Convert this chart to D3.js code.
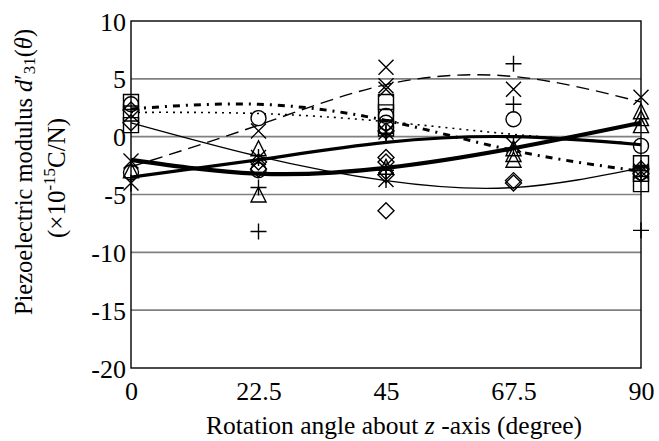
<!DOCTYPE html>
<html>
  <head>
    <meta charset='utf-8'>
    <script src="https://d3js.org/d3.v7.min.js"></script>
    <title>Piezoelectric modulus d'31</title>
    <style>
      body { margin: 0; background: #fff; }
      text { font-family: "Liberation Serif", "Times New Roman", serif; fill: #000; }
    </style>
  </head>
  <body>
    <div id='chartDIV'></div>
    <script>

  // rotation angles and tick labels
  var angles = [0, 22.5, 45, 67.5, 90];
  var xTicks = ["0", "22.5", "45", "67.5", "90"];
  var yTicks = [10, 5, 0, -5, -10, -15, -20];

  // measured points, one list per angle
  var squareVals   = [[3.0, 2.0, 1.0], [], [3.0, 2.1, 0.7], [], [-2.3, -3.2, -4.1]];
  var circleVals   = [[2.8, -3.1], [1.6, -2.9], [1.8, 1.2, 0.8], [1.5], [-0.8, -3.1]];
  var diamondVals  = [[2.3, 1.2], [-2.2, -2.8], [0.5, -1.8, -2.2, -3.3, -6.4], [-3.8, -4.0], [-2.8, -3.2]];
  var triangleVals = [[-2.9], [-1.0, -5.0], [-2.6], [-1.0, -1.5, -2.0], [2.2, 1.6, 1.0]];
  var crossVals    = [[-2.1], [0.5], [6.0, 4.4, 4.1], [4.1], [3.4]];
  var plusVals     = [[], [-4.4, -8.2], [0.3, -2.9], [6.3, 2.8], [-2.7, -8.1]];
  var starVals     = [[-4.0], [-1.8], [0.4, -3.7], [-0.7], [-3.0]];

  // calculated curves, value at each angle
  var thinLine    = [1.2, -1.7, -3.8, -4.4, -2.7];
  var thickLineA  = [-2.0, -3.2, -2.7, -1.0, 1.2];
  var thickLineB  = [-3.5, -2.0, -0.5, 0.0, -0.7];
  var dottedLine  = [2.1, 2.0, 1.3, 0.2, -0.6];
  var dashDotLine = [2.4, 2.8, 1.4, -1.2, -3.0];
  var dashedLine  = [-2.6, 1.0, 4.5, 5.2, 3.0];

  var W = 659, H = 441;
  var plotL = 131, plotR = 641, plotT = 21, plotB = 368;

  var xScale = d3.scaleLinear().domain([0, 90]).range([plotL, plotR]);
  var yScale = d3.scaleLinear().domain([-20, 10]).range([plotB, plotT]);

  var svg = d3.select("#chartDIV")
    .append("svg")
    .attr("width", W)
    .attr("height", H);

  // grid lines
  svg.append("g")
    .selectAll("line")
    .data(yTicks.filter(function(d) { return d > -20 && d < 10; }))
    .enter()
    .append("line")
    .attr("x1", plotL).attr("x2", plotR)
    .attr("y1", function(d) { return yScale(d); })
    .attr("y2", function(d) { return yScale(d); })
    .attr("stroke", "#808080")
    .attr("stroke-width", 1.7);

  // axes
  var yAxis = svg.append("g")
    .attr("transform", "translate(" + plotL + ",0)")
    .call(d3.axisLeft(yScale).tickValues(yTicks).tickSize(0).tickPadding(5)
      .tickFormat(function(d) { return String(d); }));
  var xAxis = svg.append("g")
    .attr("transform", "translate(0," + plotB + ")")
    .call(d3.axisBottom(xScale).tickValues(angles).tickSize(0).tickPadding(14)
      .tickFormat(function(d, i) { return xTicks[i]; }));

  [xAxis, yAxis].forEach(function(a) {
    a.select(".domain").remove();
    a.selectAll("text")
      .style("font-family", "'Liberation Serif', serif")
      .style("font-size", "26px");
  });
  yAxis.selectAll("text").attr("dy", "0.35em");

  // plot frame
  svg.append("rect")
    .attr("x", plotL).attr("y", plotT)
    .attr("width", plotR - plotL).attr("height", plotB - plotT)
    .attr("fill", "none")
    .attr("stroke", "#000")
    .attr("stroke-width", 1.4);

  // marker shapes
  var h = 7.5;
  var shapes = {
    square:   "M" + -h + "," + -h + "h" + 2*h + "v" + 2*h + "h" + -2*h + "Z",
    circle:   "M" + h + ",0A" + h + "," + h + " 0 1,1 " + -h + ",0A" + h + "," + h + " 0 1,1 " + h + ",0Z",
    diamond:  "M0," + (-h-0.5) + "L" + (h+0.5) + ",0L0," + (h+0.5) + "L" + (-h-0.5) + ",0Z",
    triangle: "M0," + (-h) + "L" + h + "," + h + "L" + -h + "," + h + "Z",
    cross:    "M" + -h + "," + -h + "L" + h + "," + h + "M" + h + "," + -h + "L" + -h + "," + h,
    plus:     "M" + (-h-0.5) + ",0L" + (h+0.5) + ",0M0," + (-h-0.5) + "L0," + (h+0.5),
    star:     "M" + -h + "," + -h + "L" + h + "," + h + "M" + h + "," + -h + "L" + -h + "," + h +
              "M0," + (-h-1) + "L0," + (h+1)
  };

  var markerSets = [
    { shape: "square", vals: squareVals },
    { shape: "circle", vals: circleVals },
    { shape: "diamond", vals: diamondVals },
    { shape: "triangle", vals: triangleVals },
    { shape: "cross", vals: crossVals },
    { shape: "plus", vals: plusVals },
    { shape: "star", vals: starVals }
  ];

  var points = [];
  markerSets.forEach(function(set) {
    set.vals.forEach(function(list, i) {
      list.forEach(function(v) {
        points.push({ shape: set.shape, x: angles[i], y: v });
      });
    });
  });

  svg.append("g")
    .selectAll("path")
    .data(points)
    .enter()
    .append("path")
    .attr("transform", function(d) { return "translate(" + xScale(d.x) + "," + yScale(d.y) + ")"; })
    .attr("d", function(d) { return shapes[d.shape]; })
    .attr("fill", "none")
    .attr("stroke", "#000")
    .attr("stroke-width", 1.4);

  // curves
  var lineGen = d3.line()
    .x(function(d, i) { return xScale(angles[i]); })
    .y(function(d) { return yScale(d); })
    .curve(d3.curveNatural);

  var curves = [
    { vals: thinLine, width: 1.3, dash: null },
    { vals: dottedLine, width: 1.6, dash: "2,5" },
    { vals: dashDotLine, width: 3, dash: "7,6,2,6" },
    { vals: dashedLine, width: 1.4, dash: "13,7" },
    { vals: thickLineB, width: 3.2, dash: null },
    { vals: thickLineA, width: 4.2, dash: null }
  ];

  svg.append("g")
    .selectAll("path")
    .data(curves)
    .enter()
    .append("path")
    .attr("d", function(d) { return lineGen(d.vals); })
    .attr("fill", "none")
    .attr("stroke", "#000")
    .attr("stroke-width", function(d) { return d.width; })
    .attr("stroke-dasharray", function(d) { return d.dash; });

  // axis titles
  var xTitle = svg.append("text")
    .attr("x", 394)
    .attr("y", 434)
    .attr("text-anchor", "middle")
    .style("font-size", "25.5px");
  xTitle.append("tspan").text("Rotation angle about ");
  xTitle.append("tspan").style("font-style", "italic").text("z");
  xTitle.append("tspan").text(" -axis (degree)");

  var yTitle1 = svg.append("text")
    .attr("transform", "translate(32,172) rotate(-90)")
    .attr("text-anchor", "middle")
    .style("font-size", "24.5px");
  yTitle1.append("tspan").text("Piezoelectric modulus ");
  yTitle1.append("tspan").style("font-style", "italic").text("d");
  yTitle1.append("tspan").text("\u2032");
  yTitle1.append("tspan").attr("dy", 3).style("font-size", "17px").text("31");
  yTitle1.append("tspan").attr("dy", -3).text("(");
  yTitle1.append("tspan").style("font-style", "italic").text("\u03b8");
  yTitle1.append("tspan").text(")");

  var yTitle2 = svg.append("text")
    .attr("transform", "translate(65,178) rotate(-90)")
    .attr("text-anchor", "middle")
    .style("font-size", "25px");
  yTitle2.append("tspan").text("(\u00d710");
  yTitle2.append("tspan").attr("dy", -10).style("font-size", "17px").text("-15");
  yTitle2.append("tspan").attr("dy", 10).text("C/N)");

    </script>
  </body>
</html>
